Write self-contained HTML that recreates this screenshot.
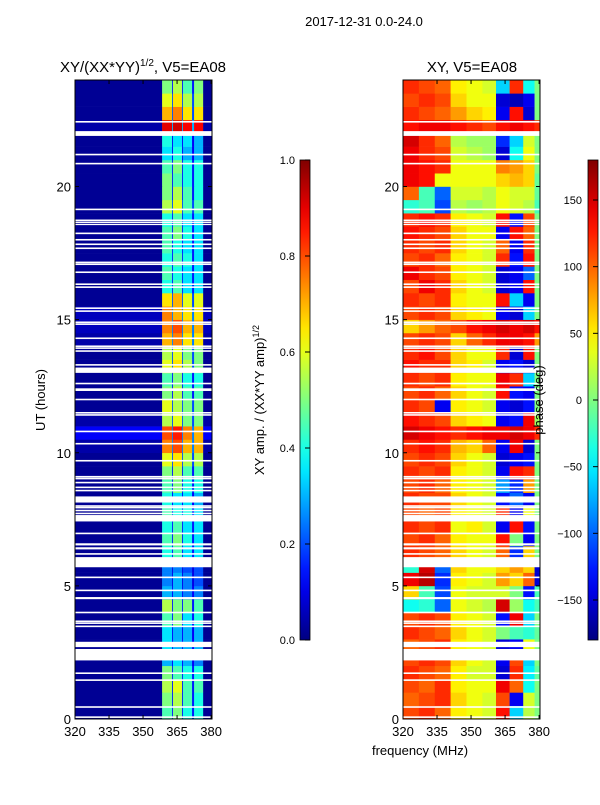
<!DOCTYPE html>
<html><head><meta charset="utf-8"><style>
body{margin:0;background:#fff;}
svg text{font-family:"Liberation Sans",sans-serif;fill:#000;}
</style></head><body>
<svg id="fig" width="600" height="800" viewBox="0 0 600 800" xmlns="http://www.w3.org/2000/svg">
<defs>
<linearGradient id="jetg" x1="0" y1="1" x2="0" y2="0"></linearGradient>
</defs>
<text x="364" y="26" font-size="13" text-anchor="middle">2017-12-31 0.0-24.0</text>
<text x="143" y="72" font-size="15" text-anchor="middle">XY/(XX*YY)<tspan font-size="10" dy="-6">1/2</tspan><tspan dy="6">, V5=EA08</tspan></text>
<text x="472" y="72" font-size="15" text-anchor="middle">XY, V5=EA08</text>
<g id="ampPanel"></g>
<g id="phPanel"></g>
<g id="axes"></g>
<text transform="translate(45,400) rotate(-90)" font-size="13" text-anchor="middle">UT (hours)</text>
<text x="420" y="755" font-size="13" text-anchor="middle">frequency (MHz)</text>
<rect x="300" y="160" width="10" height="480" fill="url(#jetg)" stroke="#000" stroke-width="0.8"/>
<rect x="588" y="160" width="10" height="480" fill="url(#jetg)" stroke="#000" stroke-width="0.8"/>
<g id="cbticks"></g>
<text transform="translate(264,400) rotate(-90)" font-size="13" text-anchor="middle">XY amp. / (XX*YY amp)<tspan font-size="9" dy="-5">1/2</tspan></text>
<text transform="translate(543,400) rotate(-90)" font-size="13" text-anchor="middle">phase (deg)</text>
</svg>
<script>
const ampFreqEdges=[320,358.4,362.8,363.2,367.2,367.6,371.6,372.5,376.5,380.4];
const ampBg=[.02,.02,.02,.02,.02,.02,.02,.02,.02,.02,.02,.02,.02,.02,.02,.02,.02,.02,.02,.02,.04,.12,.04,.02,.02,.02,.02,.02,.04,.06,.06,.02,.02,.02,.02,.02,.02,.02,.02,.02,.02,.02,.02,.02,.04,.02,.02,.02];
const ampS1=[.45,.5,.55,.5,.3,.35,.35,.45,.55,.3,.25,.25,.4,.45,.4,.45,.4,.45,.5,.6,.75,.8,.55,.6,.5,.45,.6,.55,.7,.75,.75,.65,.4,.45,.4,.45,.45,.4,.55,.5,.5,.45,.35,.4,.9,.7,.6,.5];
const ampS2=[.5,.55,.6,.45,.35,.3,.3,.5,.5,.3,.3,.25,.45,.5,.45,.4,.35,.5,.55,.65,.8,.85,.6,.55,.55,.5,.65,.6,.75,.8,.7,.7,.45,.4,.45,.4,.5,.45,.6,.55,.45,.5,.4,.35,.92,.75,.65,.55];
const ampS3=[.4,.45,.45,.4,.3,.3,.3,.35,.5,.25,.25,.2,.35,.4,.35,.4,.35,.4,.45,.55,.7,.75,.5,.5,.45,.4,.55,.5,.65,.7,.65,.6,.35,.35,.4,.35,.4,.35,.45,.45,.4,.4,.3,.35,.88,.65,.55,.45];
const ampS4=[.4,.4,.45,.4,.25,.3,.3,.4,.45,.25,.2,.2,.35,.35,.35,.35,.3,.4,.45,.55,.7,.7,.5,.5,.45,.4,.5,.5,.65,.7,.65,.6,.35,.35,.35,.35,.35,.35,.45,.4,.4,.4,.3,.3,.88,.65,.55,.5];
const ampGap=[.15,.15,.15,.15,.12,.12,.12,.15,.15,.12,.1,.1,.15,.15,.15,.15,.12,.15,.15,.2,.25,.25,.2,.2,.15,.15,.2,.2,.25,.25,.25,.2,.15,.15,.15,.15,.15,.15,.2,.15,.15,.15,.12,.12,.3,.2,.2,.15];
const phFreqEdges=[320,327,334,341,348,355,361,367,373,378,380.4];
const phRows=[
[110,120,100,50,40,30,130,-60,20,0],[100,110,120,60,40,30,110,-140,30,0],[110,100,120,50,40,40,140,100,-40,0],[120,110,100,50,30,30,-150,120,-50,-10],
[110,120,110,60,40,30,-140,110,-60,0],[100,110,120,50,40,30,-150,-140,40,0],[120,110,100,60,40,30,0,-20,-30,-10],[110,120,110,50,40,30,-130,140,-60,0],
[-40,-30,-100,40,30,20,150,10,-40,-20],[60,-20,-110,40,30,30,30,0,-130,-20],[140,160,-120,50,40,30,80,60,100,-150],[-30,150,-100,60,40,40,60,80,60,-150],
[120,110,100,60,40,30,100,-120,60,0],[110,120,100,50,40,40,130,0,-140,0],[120,110,120,40,50,30,-140,130,-130,0],[110,100,110,50,40,30,120,-140,40,0],
[120,110,110,60,40,30,-130,-100,-140,0],[110,120,100,50,40,30,-80,-120,80,0],[120,110,120,50,40,30,-140,130,120,0],[110,120,110,60,40,30,-150,-140,-130,0],
[120,130,120,70,60,100,-140,140,-150,0],[150,140,130,120,130,140,140,150,140,120],[130,120,110,60,50,40,-140,-130,140,10],[120,110,-140,50,40,30,-140,-150,-130,0],
[110,120,100,60,40,30,130,-130,-140,0],[120,110,120,50,40,40,140,120,-60,0],[130,120,120,60,50,30,-140,-130,-150,0],[120,130,110,60,40,40,120,-150,130,0],
[110,120,110,60,100,120,140,140,130,80],[60,80,100,110,130,140,150,140,150,130],[110,120,110,60,50,40,-140,-150,-60,0],[120,110,120,50,40,40,130,-60,-140,0],
[110,140,120,60,40,30,-150,-140,130,0],[140,120,110,50,40,30,-150,-140,-100,0],[110,120,100,50,40,30,120,-130,130,0],[120,110,120,60,40,30,100,-140,120,0],
[130,120,110,60,40,40,-140,130,100,0],[120,130,120,50,40,30,130,-130,110,0],[-30,-20,-110,20,10,20,40,30,20,-20],[100,-20,-100,30,30,20,40,30,30,-10],
[140,130,40,40,40,40,60,70,60,-10],[140,130,120,40,40,40,90,80,60,0],[140,120,110,30,20,10,-150,-40,40,0],[150,120,100,20,10,10,-120,-60,30,0],
[130,140,140,130,120,110,130,140,130,120],[120,110,100,80,60,50,-140,130,-150,0],[110,120,110,60,40,40,-150,-160,-140,0],[120,110,100,50,40,30,-60,120,-40,0]];
const flagStart=[22.4,21.9,21.17,20.83,19.11,18.55,18.63,18.7,18.21,17.97,17.8,17.65,17.12,17.05,16.75,16.3,16.19,15.4,15.29,14.87,14.8,14.27,13.97,13.9,13.79,13.27,13.0,12.57,12.32,11.97,11.47,11.39,10.77,10.31,9.67,9.07,9.0,8.85,8.67,8.55,8.13,7.97,7.91,7.8,7.69,7.42,6.94,6.52,6.37,6.17,5.7,5.29,4.8,4.5,3.97,3.64,3.57,3.45,2.7,2.2,1.69,1.43,0.42,0.04];
const flagEnd=[22.46,22.08,21.23,20.89,19.17,18.6,18.68,18.76,18.27,18.03,17.86,17.71,17.18,17.11,16.81,16.36,16.25,15.46,15.35,14.93,14.86,14.33,14.03,13.96,13.85,13.33,13.2,12.63,12.42,12.03,11.53,11.45,10.83,10.37,9.73,9.13,9.06,8.91,8.73,8.61,8.36,8.03,7.97,7.86,7.75,7.66,7.0,6.6,6.45,6.23,6.08,5.35,4.86,4.58,4.03,3.7,3.63,3.51,2.9,2.63,1.75,1.49,0.48,0.1];
const hourTicks=[0,5,10,15,20];
const freqTicks=[320,335,350,365,380];
const ampCbTicks=[0.0,0.2,0.4,0.6,0.8,1.0];
const phCbTicks=[-150,-100,-50,0,50,100,150];

const NS="http://www.w3.org/2000/svg";
function jet(v){v=Math.max(0,Math.min(1,v));const c=x=>Math.round(255*Math.max(0,Math.min(1,1.5-Math.abs(4*v-x))));return `rgb(${c(3)},${c(2)},${c(1)})`;}
const PY0=719,PY1=80,HMAX=24;
function yS(h){return PY0-(h/HMAX)*(PY0-PY1);}
function xS(x0,f){return x0+(f-320)*(137/60.4);}
function mk(tag,attrs,parent){const e=document.createElementNS(NS,tag);for(const k in attrs)e.setAttribute(k,attrs[k]);parent.appendChild(e);return e;}
const g=document.getElementById('jetg');
for(let i=0;i<=20;i++){mk('stop',{offset:(i/20),'stop-color':jet(i/20)},g);}
const panels=[{x0:75,grp:document.getElementById('ampPanel')},{x0:403,grp:document.getElementById('phPanel')}];
const ap=panels[0].grp;
for(let r=0;r<ampBg.length;r++){
  const vals=[ampBg[r],ampS1[r],ampGap[r],ampS2[r],ampGap[r],ampS3[r],ampGap[r],ampS4[r],ampBg[r]];
  const ya=yS(r*0.5+0.5),yb=yS(r*0.5);
  for(let c=0;c<vals.length;c++){
    const xa=xS(75,ampFreqEdges[c]),xb=xS(75,ampFreqEdges[c+1]);
    const e=mk('rect',{x:xa,y:ya,width:xb-xa+0.3,height:yb-ya+0.3,fill:jet(vals[c])},ap);
    
    
  }
}
const pp=panels[1].grp;
for(let r=0;r<phRows.length;r++){
  const ya=yS(r*0.5+0.5),yb=yS(r*0.5);
  for(let c=0;c<phRows[r].length;c++){
    const xa=xS(403,phFreqEdges[c]),xb=xS(403,phFreqEdges[c+1]);
    const e=mk('rect',{x:xa,y:ya,width:xb-xa+0.3,height:yb-ya+0.3,fill:jet((phRows[r][c]+180)/360)},pp);
    
    
  }
}
const ax=document.getElementById('axes');
panels.forEach(p=>{
  for(let i=0;i<flagStart.length;i++){
    const ya=yS(flagEnd[i]),yb=yS(flagStart[i]);
    const e=mk('rect',{x:p.x0,y:ya,width:137,height:Math.max(1.2,yb-ya),fill:'#fff'},p.grp);
    
    
  }
  const fr=mk('rect',{x:p.x0,y:80,width:137,height:639,fill:'none',stroke:'#000','stroke-width':1},ax);
  
  
  hourTicks.forEach(h=>{
    const y=yS(h);
    mk('line',{x1:p.x0,x2:p.x0+4,y1:y,y2:y,stroke:'#000'},ax);
    mk('line',{x1:p.x0+133,x2:p.x0+137,y1:y,y2:y,stroke:'#000'},ax);
    const t=mk('text',{x:p.x0-4,y:y+5,'font-size':13,'text-anchor':'end'},ax);t.textContent=h;
    
    
  });
  freqTicks.forEach(f=>{
    const x=xS(p.x0,f);
    mk('line',{x1:x,x2:x,y1:719,y2:715,stroke:'#000'},ax);
    mk('line',{x1:x,x2:x,y1:80,y2:84,stroke:'#000'},ax);
    const t=mk('text',{x:x,y:736,'font-size':13,'text-anchor':'middle'},ax);t.textContent=f;
    
    
  });
});
const cb=document.getElementById('cbticks');
ampCbTicks.forEach(v=>{const y=640-v*480;
  mk('line',{x1:305,x2:310,y1:y,y2:y,stroke:'#000'},cb);
  const t=mk('text',{x:295,y:y+4,'font-size':11,'text-anchor':'end'},cb);t.textContent=v.toFixed(1);
  
  });
phCbTicks.forEach(v=>{const y=640-(v+180)/360*480;
  mk('line',{x1:593,x2:598,y1:y,y2:y,stroke:'#000'},cb);
  const t=mk('text',{x:582,y:y+4,'font-size':11,'text-anchor':'end'},cb);t.textContent=v<0?'\u2212'+Math.abs(v):v;
  
  });
</script>
</body></html>
